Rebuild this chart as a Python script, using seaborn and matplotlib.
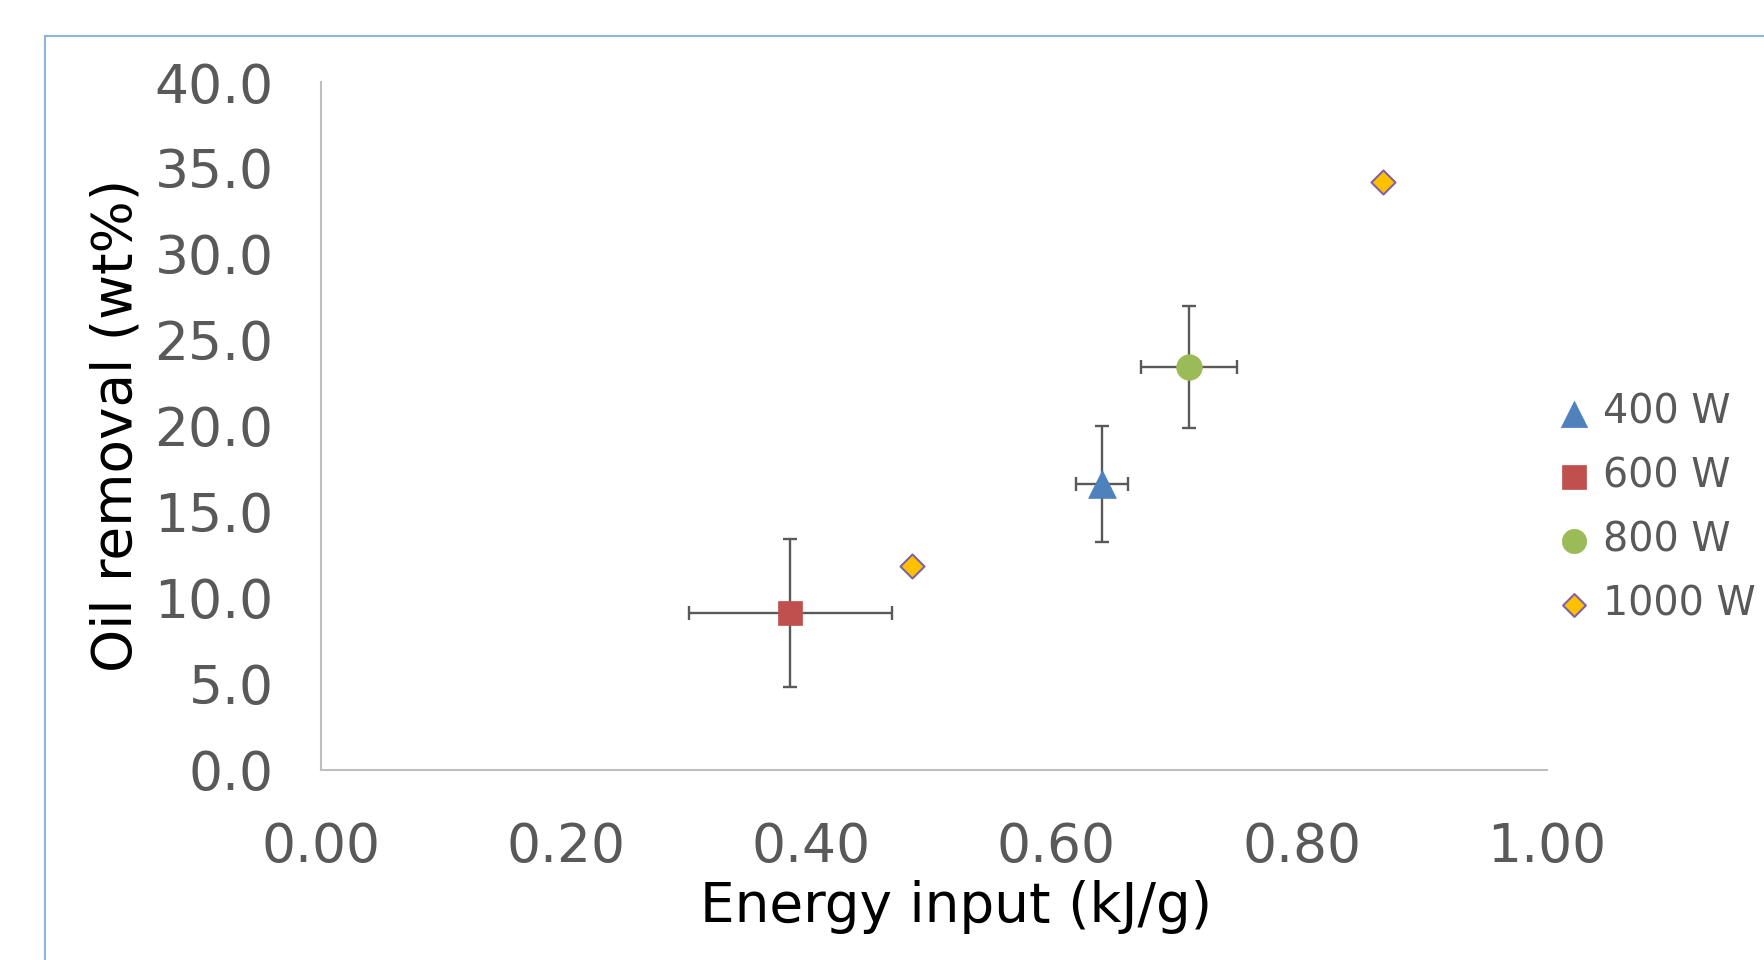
import matplotlib
matplotlib.use("Agg")
import matplotlib.pyplot as plt
import seaborn as sns
import pandas as pd
from matplotlib.patches import Rectangle

# ---- data ----
series = ["400 W", "600 W", "800 W", "1000 W"]
x_400 = [0.637]; y_400 = [16.6]; xerr_400 = [0.021]; yerr_400 = [3.37]
x_600 = [0.383]; y_600 = [9.1]; xerr_600 = [0.083]; yerr_600 = [4.3]
x_800 = [0.708]; y_800 = [23.4]; xerr_800 = [0.039]; yerr_800 = [3.55]
x_1000 = [0.482, 0.866]; y_1000 = [11.85, 34.2]

x_ticks = [0.0, 0.2, 0.4, 0.6, 0.8, 1.0]
y_ticks = [0, 5, 10, 15, 20, 25, 30, 35, 40]

colors = {"400 W": "#4F81BD", "600 W": "#C0504D", "800 W": "#9BBB59", "1000 W": "#FFC000"}
markers = {"400 W": "^", "600 W": "s", "800 W": "o", "1000 W": "D"}
sizes = {"400 W": 400, "600 W": 320, "800 W": 340, "1000 W": 150}
edges = {"400 W": "#4F81BD", "600 W": "#C0504D", "800 W": "#9BBB59", "1000 W": "#8064A2"}

sns.set_theme(style="white")
plt.rcParams["font.family"] = ["DejaVu Sans"]

W, H = 1764, 960
fig = plt.figure(figsize=(W / 100, H / 100), dpi=100)
ax = fig.add_axes([320.6 / W, 1 - 769.5 / H, (1547 - 320.6) / W, (769.5 - 82) / H])

err_kw = dict(fmt="none", ecolor="#595959", elinewidth=1.7, capsize=5, capthick=1.7, zorder=2)
ax.errorbar(x_400, y_400, xerr=xerr_400, yerr=yerr_400, **err_kw)
ax.errorbar(x_600, y_600, xerr=xerr_600, yerr=yerr_600, **err_kw)
ax.errorbar(x_800, y_800, xerr=xerr_800, yerr=yerr_800, **err_kw)

data = {"400 W": (x_400, y_400), "600 W": (x_600, y_600),
        "800 W": (x_800, y_800), "1000 W": (x_1000, y_1000)}
for name in series:
    xs, ys = data[name]
    df = pd.DataFrame({"x": xs, "y": ys})
    sns.scatterplot(data=df, x="x", y="y", ax=ax, marker=markers[name], s=sizes[name],
                    color=colors[name], edgecolor=edges[name],
                    linewidth=1.5 if name == "1000 W" else 0.5, label=name, zorder=3)

ax.set_xlim(0, 1.0)
ax.set_ylim(0, 40)
ax.set_xticks(x_ticks)
ax.set_xticklabels([f"{v:.2f}" for v in x_ticks])
ax.set_yticks(y_ticks)
ax.set_yticklabels([f"{v:.1f}" for v in y_ticks])
ax.tick_params(axis="both", length=0, labelsize=38.5, labelcolor="#595959")
ax.tick_params(axis="y", pad=34)
ax.tick_params(axis="x", pad=37)

for s in ["top", "right"]:
    ax.spines[s].set_visible(False)
for s in ["left", "bottom"]:
    ax.spines[s].set_color("#BFBFBF")
    ax.spines[s].set_linewidth(1.5)

ax.set_xlabel("Energy input (kJ/g)", fontsize=39.5, color="black")
ax.set_ylabel("Oil removal (wt%)", fontsize=39.5, color="black")
ax.xaxis.set_label_coords(0.518, -0.161)
ax.yaxis.set_label_coords(-0.144, 0.5)

leg = ax.legend(loc="upper left", bbox_to_anchor=(1557 / W, 1 - 393 / H),
                bbox_transform=fig.transFigure, frameon=False, fontsize=28.5,
                handlelength=0.85, handletextpad=0.3, labelspacing=0.6,
                borderpad=0, borderaxespad=0, markerscale=0.95)
for t in leg.get_texts():
    t.set_color("#595959")

fig.patches.append(Rectangle((45 / W, -0.1), 1.2, 1 - 36 / H + 0.1, transform=fig.transFigure,
                             fill=False, edgecolor="#8DB3E2", linewidth=1.5, figure=fig))

fig.savefig("out.png", dpi=100)
